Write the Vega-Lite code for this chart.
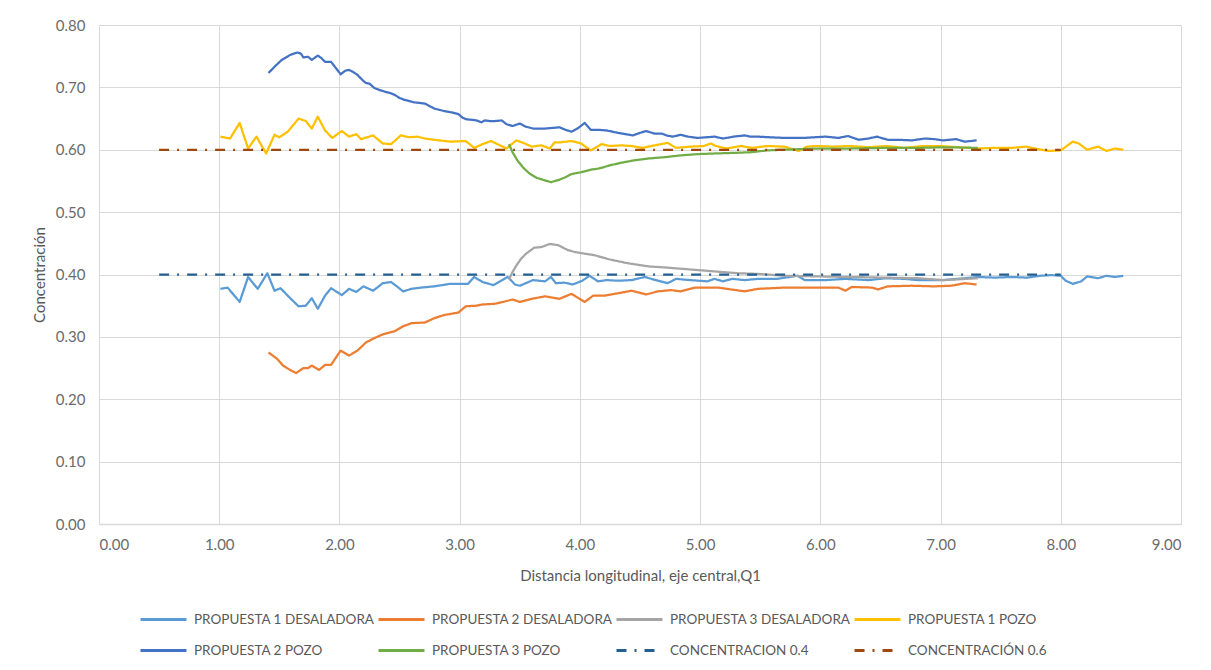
{
  "$schema": "https://vega.github.io/schema/vega-lite/v6.json",
  "width": 1082,
  "height": 499,
  "autosize": {"type": "none"},
  "padding": {"left": 99, "top": 25, "right": 30, "bottom": 146},
  "background": "white",
  "config": {
    "font": "Lato",
    "view": {"stroke": null},
    "axis": {
      "labelFont": "Lato", "labelFontSize": 15, "labelColor": "#6b6b6b",
      "titleFont": "Lato", "titleFontSize": 15, "titleFontWeight": "normal", "titleColor": "#595959",
      "gridColor": "#d9d9d9", "gridWidth": 1, "ticks": false
    },
    "legend": {
      "labelFont": "Lato", "labelFontSize": 13.5, "labelColor": "#595959", "labelLimit": 400
    }
  },
  "data": {
    "values": [
      {"serie": "PROPUESTA 1 DESALADORA", "x": 1.01, "y": 0.377}, {"serie": "PROPUESTA 1 DESALADORA", "x": 1.07, "y": 0.379}, {"serie": "PROPUESTA 1 DESALADORA", "x": 1.17, "y": 0.356}, {"serie": "PROPUESTA 1 DESALADORA", "x": 1.24, "y": 0.396}, {"serie": "PROPUESTA 1 DESALADORA", "x": 1.32, "y": 0.377}, {"serie": "PROPUESTA 1 DESALADORA", "x": 1.40, "y": 0.402}, {"serie": "PROPUESTA 1 DESALADORA", "x": 1.46, "y": 0.374}, {"serie": "PROPUESTA 1 DESALADORA", "x": 1.51, "y": 0.378}, {"serie": "PROPUESTA 1 DESALADORA", "x": 1.57, "y": 0.366}, {"serie": "PROPUESTA 1 DESALADORA", "x": 1.66, "y": 0.349}, {"serie": "PROPUESTA 1 DESALADORA", "x": 1.72, "y": 0.350}, {"serie": "PROPUESTA 1 DESALADORA", "x": 1.77, "y": 0.362}, {"serie": "PROPUESTA 1 DESALADORA", "x": 1.82, "y": 0.345}, {"serie": "PROPUESTA 1 DESALADORA", "x": 1.88, "y": 0.366}, {"serie": "PROPUESTA 1 DESALADORA", "x": 1.93, "y": 0.378}, {"serie": "PROPUESTA 1 DESALADORA", "x": 2.02, "y": 0.367}, {"serie": "PROPUESTA 1 DESALADORA", "x": 2.08, "y": 0.377}, {"serie": "PROPUESTA 1 DESALADORA", "x": 2.14, "y": 0.372}, {"serie": "PROPUESTA 1 DESALADORA", "x": 2.20, "y": 0.381}, {"serie": "PROPUESTA 1 DESALADORA", "x": 2.28, "y": 0.374}, {"serie": "PROPUESTA 1 DESALADORA", "x": 2.36, "y": 0.386}, {"serie": "PROPUESTA 1 DESALADORA", "x": 2.43, "y": 0.388}, {"serie": "PROPUESTA 1 DESALADORA", "x": 2.53, "y": 0.373}, {"serie": "PROPUESTA 1 DESALADORA", "x": 2.60, "y": 0.377}, {"serie": "PROPUESTA 1 DESALADORA", "x": 2.68, "y": 0.379}, {"serie": "PROPUESTA 1 DESALADORA", "x": 2.79, "y": 0.381}, {"serie": "PROPUESTA 1 DESALADORA", "x": 2.92, "y": 0.385}, {"serie": "PROPUESTA 1 DESALADORA", "x": 3.07, "y": 0.385}, {"serie": "PROPUESTA 1 DESALADORA", "x": 3.12, "y": 0.396}, {"serie": "PROPUESTA 1 DESALADORA", "x": 3.19, "y": 0.388}, {"serie": "PROPUESTA 1 DESALADORA", "x": 3.28, "y": 0.383}, {"serie": "PROPUESTA 1 DESALADORA", "x": 3.40, "y": 0.396}, {"serie": "PROPUESTA 1 DESALADORA", "x": 3.46, "y": 0.384}, {"serie": "PROPUESTA 1 DESALADORA", "x": 3.50, "y": 0.382}, {"serie": "PROPUESTA 1 DESALADORA", "x": 3.61, "y": 0.391}, {"serie": "PROPUESTA 1 DESALADORA", "x": 3.71, "y": 0.389}, {"serie": "PROPUESTA 1 DESALADORA", "x": 3.76, "y": 0.396}, {"serie": "PROPUESTA 1 DESALADORA", "x": 3.80, "y": 0.386}, {"serie": "PROPUESTA 1 DESALADORA", "x": 3.87, "y": 0.387}, {"serie": "PROPUESTA 1 DESALADORA", "x": 3.94, "y": 0.384}, {"serie": "PROPUESTA 1 DESALADORA", "x": 4.02, "y": 0.390}, {"serie": "PROPUESTA 1 DESALADORA", "x": 4.08, "y": 0.398}, {"serie": "PROPUESTA 1 DESALADORA", "x": 4.15, "y": 0.389}, {"serie": "PROPUESTA 1 DESALADORA", "x": 4.22, "y": 0.391}, {"serie": "PROPUESTA 1 DESALADORA", "x": 4.32, "y": 0.390}, {"serie": "PROPUESTA 1 DESALADORA", "x": 4.43, "y": 0.391}, {"serie": "PROPUESTA 1 DESALADORA", "x": 4.54, "y": 0.396}, {"serie": "PROPUESTA 1 DESALADORA", "x": 4.65, "y": 0.390}, {"serie": "PROPUESTA 1 DESALADORA", "x": 4.73, "y": 0.386}, {"serie": "PROPUESTA 1 DESALADORA", "x": 4.80, "y": 0.393}, {"serie": "PROPUESTA 1 DESALADORA", "x": 4.92, "y": 0.391}, {"serie": "PROPUESTA 1 DESALADORA", "x": 5.06, "y": 0.389}, {"serie": "PROPUESTA 1 DESALADORA", "x": 5.12, "y": 0.393}, {"serie": "PROPUESTA 1 DESALADORA", "x": 5.19, "y": 0.389}, {"serie": "PROPUESTA 1 DESALADORA", "x": 5.27, "y": 0.393}, {"serie": "PROPUESTA 1 DESALADORA", "x": 5.37, "y": 0.391}, {"serie": "PROPUESTA 1 DESALADORA", "x": 5.48, "y": 0.393}, {"serie": "PROPUESTA 1 DESALADORA", "x": 5.64, "y": 0.393}, {"serie": "PROPUESTA 1 DESALADORA", "x": 5.81, "y": 0.398}, {"serie": "PROPUESTA 1 DESALADORA", "x": 5.87, "y": 0.391}, {"serie": "PROPUESTA 1 DESALADORA", "x": 6.04, "y": 0.391}, {"serie": "PROPUESTA 1 DESALADORA", "x": 6.21, "y": 0.393}, {"serie": "PROPUESTA 1 DESALADORA", "x": 6.40, "y": 0.391}, {"serie": "PROPUESTA 1 DESALADORA", "x": 6.54, "y": 0.394}, {"serie": "PROPUESTA 1 DESALADORA", "x": 6.70, "y": 0.393}, {"serie": "PROPUESTA 1 DESALADORA", "x": 6.81, "y": 0.391}, {"serie": "PROPUESTA 1 DESALADORA", "x": 7.02, "y": 0.391}, {"serie": "PROPUESTA 1 DESALADORA", "x": 7.20, "y": 0.394}, {"serie": "PROPUESTA 1 DESALADORA", "x": 7.31, "y": 0.396}, {"serie": "PROPUESTA 1 DESALADORA", "x": 7.45, "y": 0.395}, {"serie": "PROPUESTA 1 DESALADORA", "x": 7.59, "y": 0.396}, {"serie": "PROPUESTA 1 DESALADORA", "x": 7.72, "y": 0.395}, {"serie": "PROPUESTA 1 DESALADORA", "x": 7.83, "y": 0.398}, {"serie": "PROPUESTA 1 DESALADORA", "x": 7.92, "y": 0.399}, {"serie": "PROPUESTA 1 DESALADORA", "x": 8.00, "y": 0.398}, {"serie": "PROPUESTA 1 DESALADORA", "x": 8.04, "y": 0.390}, {"serie": "PROPUESTA 1 DESALADORA", "x": 8.10, "y": 0.385}, {"serie": "PROPUESTA 1 DESALADORA", "x": 8.17, "y": 0.389}, {"serie": "PROPUESTA 1 DESALADORA", "x": 8.22, "y": 0.397}, {"serie": "PROPUESTA 1 DESALADORA", "x": 8.31, "y": 0.394}, {"serie": "PROPUESTA 1 DESALADORA", "x": 8.38, "y": 0.398}, {"serie": "PROPUESTA 1 DESALADORA", "x": 8.45, "y": 0.396}, {"serie": "PROPUESTA 1 DESALADORA", "x": 8.52, "y": 0.398},

      {"serie": "PROPUESTA 2 DESALADORA", "x": 1.41, "y": 0.275}, {"serie": "PROPUESTA 2 DESALADORA", "x": 1.48, "y": 0.265}, {"serie": "PROPUESTA 2 DESALADORA", "x": 1.53, "y": 0.254}, {"serie": "PROPUESTA 2 DESALADORA", "x": 1.59, "y": 0.247}, {"serie": "PROPUESTA 2 DESALADORA", "x": 1.64, "y": 0.242}, {"serie": "PROPUESTA 2 DESALADORA", "x": 1.70, "y": 0.250}, {"serie": "PROPUESTA 2 DESALADORA", "x": 1.74, "y": 0.250}, {"serie": "PROPUESTA 2 DESALADORA", "x": 1.77, "y": 0.254}, {"serie": "PROPUESTA 2 DESALADORA", "x": 1.83, "y": 0.247}, {"serie": "PROPUESTA 2 DESALADORA", "x": 1.88, "y": 0.255}, {"serie": "PROPUESTA 2 DESALADORA", "x": 1.93, "y": 0.255}, {"serie": "PROPUESTA 2 DESALADORA", "x": 2.01, "y": 0.278}, {"serie": "PROPUESTA 2 DESALADORA", "x": 2.08, "y": 0.270}, {"serie": "PROPUESTA 2 DESALADORA", "x": 2.15, "y": 0.278}, {"serie": "PROPUESTA 2 DESALADORA", "x": 2.22, "y": 0.291}, {"serie": "PROPUESTA 2 DESALADORA", "x": 2.29, "y": 0.298}, {"serie": "PROPUESTA 2 DESALADORA", "x": 2.36, "y": 0.304}, {"serie": "PROPUESTA 2 DESALADORA", "x": 2.46, "y": 0.309}, {"serie": "PROPUESTA 2 DESALADORA", "x": 2.53, "y": 0.317}, {"serie": "PROPUESTA 2 DESALADORA", "x": 2.60, "y": 0.322}, {"serie": "PROPUESTA 2 DESALADORA", "x": 2.71, "y": 0.323}, {"serie": "PROPUESTA 2 DESALADORA", "x": 2.79, "y": 0.330}, {"serie": "PROPUESTA 2 DESALADORA", "x": 2.87, "y": 0.335}, {"serie": "PROPUESTA 2 DESALADORA", "x": 2.99, "y": 0.339}, {"serie": "PROPUESTA 2 DESALADORA", "x": 3.05, "y": 0.349}, {"serie": "PROPUESTA 2 DESALADORA", "x": 3.14, "y": 0.350}, {"serie": "PROPUESTA 2 DESALADORA", "x": 3.19, "y": 0.352}, {"serie": "PROPUESTA 2 DESALADORA", "x": 3.29, "y": 0.353}, {"serie": "PROPUESTA 2 DESALADORA", "x": 3.36, "y": 0.356}, {"serie": "PROPUESTA 2 DESALADORA", "x": 3.44, "y": 0.360}, {"serie": "PROPUESTA 2 DESALADORA", "x": 3.50, "y": 0.356}, {"serie": "PROPUESTA 2 DESALADORA", "x": 3.60, "y": 0.361}, {"serie": "PROPUESTA 2 DESALADORA", "x": 3.71, "y": 0.365}, {"serie": "PROPUESTA 2 DESALADORA", "x": 3.83, "y": 0.361}, {"serie": "PROPUESTA 2 DESALADORA", "x": 3.93, "y": 0.369}, {"serie": "PROPUESTA 2 DESALADORA", "x": 4.04, "y": 0.356}, {"serie": "PROPUESTA 2 DESALADORA", "x": 4.11, "y": 0.366}, {"serie": "PROPUESTA 2 DESALADORA", "x": 4.20, "y": 0.366}, {"serie": "PROPUESTA 2 DESALADORA", "x": 4.32, "y": 0.370}, {"serie": "PROPUESTA 2 DESALADORA", "x": 4.43, "y": 0.374}, {"serie": "PROPUESTA 2 DESALADORA", "x": 4.55, "y": 0.368}, {"serie": "PROPUESTA 2 DESALADORA", "x": 4.65, "y": 0.373}, {"serie": "PROPUESTA 2 DESALADORA", "x": 4.76, "y": 0.375}, {"serie": "PROPUESTA 2 DESALADORA", "x": 4.84, "y": 0.373}, {"serie": "PROPUESTA 2 DESALADORA", "x": 4.96, "y": 0.379}, {"serie": "PROPUESTA 2 DESALADORA", "x": 5.15, "y": 0.379}, {"serie": "PROPUESTA 2 DESALADORA", "x": 5.37, "y": 0.373}, {"serie": "PROPUESTA 2 DESALADORA", "x": 5.48, "y": 0.377}, {"serie": "PROPUESTA 2 DESALADORA", "x": 5.70, "y": 0.379}, {"serie": "PROPUESTA 2 DESALADORA", "x": 5.93, "y": 0.379}, {"serie": "PROPUESTA 2 DESALADORA", "x": 6.15, "y": 0.379}, {"serie": "PROPUESTA 2 DESALADORA", "x": 6.21, "y": 0.374}, {"serie": "PROPUESTA 2 DESALADORA", "x": 6.26, "y": 0.380}, {"serie": "PROPUESTA 2 DESALADORA", "x": 6.43, "y": 0.379}, {"serie": "PROPUESTA 2 DESALADORA", "x": 6.48, "y": 0.376}, {"serie": "PROPUESTA 2 DESALADORA", "x": 6.56, "y": 0.381}, {"serie": "PROPUESTA 2 DESALADORA", "x": 6.76, "y": 0.382}, {"serie": "PROPUESTA 2 DESALADORA", "x": 6.95, "y": 0.381}, {"serie": "PROPUESTA 2 DESALADORA", "x": 7.09, "y": 0.382}, {"serie": "PROPUESTA 2 DESALADORA", "x": 7.20, "y": 0.386}, {"serie": "PROPUESTA 2 DESALADORA", "x": 7.30, "y": 0.384},

      {"serie": "PROPUESTA 3 DESALADORA", "x": 3.41, "y": 0.392}, {"serie": "PROPUESTA 3 DESALADORA", "x": 3.44, "y": 0.404}, {"serie": "PROPUESTA 3 DESALADORA", "x": 3.47, "y": 0.414}, {"serie": "PROPUESTA 3 DESALADORA", "x": 3.51, "y": 0.425}, {"serie": "PROPUESTA 3 DESALADORA", "x": 3.55, "y": 0.433}, {"serie": "PROPUESTA 3 DESALADORA", "x": 3.62, "y": 0.443}, {"serie": "PROPUESTA 3 DESALADORA", "x": 3.68, "y": 0.444}, {"serie": "PROPUESTA 3 DESALADORA", "x": 3.75, "y": 0.449}, {"serie": "PROPUESTA 3 DESALADORA", "x": 3.82, "y": 0.447}, {"serie": "PROPUESTA 3 DESALADORA", "x": 3.90, "y": 0.439}, {"serie": "PROPUESTA 3 DESALADORA", "x": 3.96, "y": 0.436}, {"serie": "PROPUESTA 3 DESALADORA", "x": 4.02, "y": 0.434}, {"serie": "PROPUESTA 3 DESALADORA", "x": 4.12, "y": 0.431}, {"serie": "PROPUESTA 3 DESALADORA", "x": 4.25, "y": 0.424}, {"serie": "PROPUESTA 3 DESALADORA", "x": 4.40, "y": 0.418}, {"serie": "PROPUESTA 3 DESALADORA", "x": 4.57, "y": 0.413}, {"serie": "PROPUESTA 3 DESALADORA", "x": 4.73, "y": 0.411}, {"serie": "PROPUESTA 3 DESALADORA", "x": 4.92, "y": 0.408}, {"serie": "PROPUESTA 3 DESALADORA", "x": 5.12, "y": 0.405}, {"serie": "PROPUESTA 3 DESALADORA", "x": 5.31, "y": 0.402}, {"serie": "PROPUESTA 3 DESALADORA", "x": 5.48, "y": 0.401}, {"serie": "PROPUESTA 3 DESALADORA", "x": 5.70, "y": 0.398}, {"serie": "PROPUESTA 3 DESALADORA", "x": 5.97, "y": 0.397}, {"serie": "PROPUESTA 3 DESALADORA", "x": 6.25, "y": 0.396}, {"serie": "PROPUESTA 3 DESALADORA", "x": 6.53, "y": 0.395}, {"serie": "PROPUESTA 3 DESALADORA", "x": 6.81, "y": 0.394}, {"serie": "PROPUESTA 3 DESALADORA", "x": 7.03, "y": 0.391}, {"serie": "PROPUESTA 3 DESALADORA", "x": 7.31, "y": 0.394},

      {"serie": "PROPUESTA 1 POZO", "x": 1.01, "y": 0.621}, {"serie": "PROPUESTA 1 POZO", "x": 1.09, "y": 0.618}, {"serie": "PROPUESTA 1 POZO", "x": 1.17, "y": 0.643}, {"serie": "PROPUESTA 1 POZO", "x": 1.24, "y": 0.602}, {"serie": "PROPUESTA 1 POZO", "x": 1.31, "y": 0.621}, {"serie": "PROPUESTA 1 POZO", "x": 1.39, "y": 0.594}, {"serie": "PROPUESTA 1 POZO", "x": 1.46, "y": 0.624}, {"serie": "PROPUESTA 1 POZO", "x": 1.50, "y": 0.620}, {"serie": "PROPUESTA 1 POZO", "x": 1.57, "y": 0.629}, {"serie": "PROPUESTA 1 POZO", "x": 1.66, "y": 0.650}, {"serie": "PROPUESTA 1 POZO", "x": 1.72, "y": 0.646}, {"serie": "PROPUESTA 1 POZO", "x": 1.77, "y": 0.634}, {"serie": "PROPUESTA 1 POZO", "x": 1.82, "y": 0.653}, {"serie": "PROPUESTA 1 POZO", "x": 1.88, "y": 0.631}, {"serie": "PROPUESTA 1 POZO", "x": 1.94, "y": 0.619}, {"serie": "PROPUESTA 1 POZO", "x": 2.02, "y": 0.630}, {"serie": "PROPUESTA 1 POZO", "x": 2.08, "y": 0.621}, {"serie": "PROPUESTA 1 POZO", "x": 2.14, "y": 0.625}, {"serie": "PROPUESTA 1 POZO", "x": 2.18, "y": 0.617}, {"serie": "PROPUESTA 1 POZO", "x": 2.28, "y": 0.623}, {"serie": "PROPUESTA 1 POZO", "x": 2.36, "y": 0.610}, {"serie": "PROPUESTA 1 POZO", "x": 2.43, "y": 0.609}, {"serie": "PROPUESTA 1 POZO", "x": 2.51, "y": 0.623}, {"serie": "PROPUESTA 1 POZO", "x": 2.58, "y": 0.620}, {"serie": "PROPUESTA 1 POZO", "x": 2.65, "y": 0.621}, {"serie": "PROPUESTA 1 POZO", "x": 2.71, "y": 0.618}, {"serie": "PROPUESTA 1 POZO", "x": 2.79, "y": 0.616}, {"serie": "PROPUESTA 1 POZO", "x": 2.92, "y": 0.613}, {"serie": "PROPUESTA 1 POZO", "x": 3.05, "y": 0.614}, {"serie": "PROPUESTA 1 POZO", "x": 3.12, "y": 0.603}, {"serie": "PROPUESTA 1 POZO", "x": 3.19, "y": 0.609}, {"serie": "PROPUESTA 1 POZO", "x": 3.26, "y": 0.614}, {"serie": "PROPUESTA 1 POZO", "x": 3.39, "y": 0.602}, {"serie": "PROPUESTA 1 POZO", "x": 3.47, "y": 0.615}, {"serie": "PROPUESTA 1 POZO", "x": 3.53, "y": 0.611}, {"serie": "PROPUESTA 1 POZO", "x": 3.60, "y": 0.605}, {"serie": "PROPUESTA 1 POZO", "x": 3.68, "y": 0.607}, {"serie": "PROPUESTA 1 POZO", "x": 3.75, "y": 0.602}, {"serie": "PROPUESTA 1 POZO", "x": 3.79, "y": 0.612}, {"serie": "PROPUESTA 1 POZO", "x": 3.84, "y": 0.612}, {"serie": "PROPUESTA 1 POZO", "x": 3.93, "y": 0.614}, {"serie": "PROPUESTA 1 POZO", "x": 4.01, "y": 0.610}, {"serie": "PROPUESTA 1 POZO", "x": 4.09, "y": 0.599}, {"serie": "PROPUESTA 1 POZO", "x": 4.18, "y": 0.609}, {"serie": "PROPUESTA 1 POZO", "x": 4.25, "y": 0.606}, {"serie": "PROPUESTA 1 POZO", "x": 4.34, "y": 0.607}, {"serie": "PROPUESTA 1 POZO", "x": 4.43, "y": 0.606}, {"serie": "PROPUESTA 1 POZO", "x": 4.52, "y": 0.603}, {"serie": "PROPUESTA 1 POZO", "x": 4.62, "y": 0.607}, {"serie": "PROPUESTA 1 POZO", "x": 4.73, "y": 0.611}, {"serie": "PROPUESTA 1 POZO", "x": 4.80, "y": 0.603}, {"serie": "PROPUESTA 1 POZO", "x": 4.92, "y": 0.605}, {"serie": "PROPUESTA 1 POZO", "x": 5.03, "y": 0.606}, {"serie": "PROPUESTA 1 POZO", "x": 5.09, "y": 0.610}, {"serie": "PROPUESTA 1 POZO", "x": 5.13, "y": 0.606}, {"serie": "PROPUESTA 1 POZO", "x": 5.22, "y": 0.602}, {"serie": "PROPUESTA 1 POZO", "x": 5.34, "y": 0.606}, {"serie": "PROPUESTA 1 POZO", "x": 5.43, "y": 0.603}, {"serie": "PROPUESTA 1 POZO", "x": 5.56, "y": 0.606}, {"serie": "PROPUESTA 1 POZO", "x": 5.70, "y": 0.605}, {"serie": "PROPUESTA 1 POZO", "x": 5.82, "y": 0.598}, {"serie": "PROPUESTA 1 POZO", "x": 5.89, "y": 0.605}, {"serie": "PROPUESTA 1 POZO", "x": 5.97, "y": 0.606}, {"serie": "PROPUESTA 1 POZO", "x": 6.10, "y": 0.605}, {"serie": "PROPUESTA 1 POZO", "x": 6.25, "y": 0.606}, {"serie": "PROPUESTA 1 POZO", "x": 6.40, "y": 0.604}, {"serie": "PROPUESTA 1 POZO", "x": 6.55, "y": 0.606}, {"serie": "PROPUESTA 1 POZO", "x": 6.70, "y": 0.603}, {"serie": "PROPUESTA 1 POZO", "x": 6.85, "y": 0.606}, {"serie": "PROPUESTA 1 POZO", "x": 7.00, "y": 0.606}, {"serie": "PROPUESTA 1 POZO", "x": 7.15, "y": 0.604}, {"serie": "PROPUESTA 1 POZO", "x": 7.31, "y": 0.602}, {"serie": "PROPUESTA 1 POZO", "x": 7.45, "y": 0.603}, {"serie": "PROPUESTA 1 POZO", "x": 7.59, "y": 0.603}, {"serie": "PROPUESTA 1 POZO", "x": 7.71, "y": 0.605}, {"serie": "PROPUESTA 1 POZO", "x": 7.81, "y": 0.601}, {"serie": "PROPUESTA 1 POZO", "x": 7.90, "y": 0.598}, {"serie": "PROPUESTA 1 POZO", "x": 8.00, "y": 0.599}, {"serie": "PROPUESTA 1 POZO", "x": 8.10, "y": 0.613}, {"serie": "PROPUESTA 1 POZO", "x": 8.15, "y": 0.610}, {"serie": "PROPUESTA 1 POZO", "x": 8.22, "y": 0.600}, {"serie": "PROPUESTA 1 POZO", "x": 8.31, "y": 0.605}, {"serie": "PROPUESTA 1 POZO", "x": 8.38, "y": 0.598}, {"serie": "PROPUESTA 1 POZO", "x": 8.45, "y": 0.602}, {"serie": "PROPUESTA 1 POZO", "x": 8.52, "y": 0.600},

      {"serie": "PROPUESTA 2 POZO", "x": 1.41, "y": 0.723}, {"serie": "PROPUESTA 2 POZO", "x": 1.47, "y": 0.735}, {"serie": "PROPUESTA 2 POZO", "x": 1.52, "y": 0.744}, {"serie": "PROPUESTA 2 POZO", "x": 1.59, "y": 0.752}, {"serie": "PROPUESTA 2 POZO", "x": 1.65, "y": 0.756}, {"serie": "PROPUESTA 2 POZO", "x": 1.68, "y": 0.754}, {"serie": "PROPUESTA 2 POZO", "x": 1.70, "y": 0.748}, {"serie": "PROPUESTA 2 POZO", "x": 1.74, "y": 0.749}, {"serie": "PROPUESTA 2 POZO", "x": 1.77, "y": 0.744}, {"serie": "PROPUESTA 2 POZO", "x": 1.82, "y": 0.751}, {"serie": "PROPUESTA 2 POZO", "x": 1.85, "y": 0.747}, {"serie": "PROPUESTA 2 POZO", "x": 1.88, "y": 0.741}, {"serie": "PROPUESTA 2 POZO", "x": 1.93, "y": 0.741}, {"serie": "PROPUESTA 2 POZO", "x": 1.97, "y": 0.731}, {"serie": "PROPUESTA 2 POZO", "x": 2.01, "y": 0.721}, {"serie": "PROPUESTA 2 POZO", "x": 2.05, "y": 0.727}, {"serie": "PROPUESTA 2 POZO", "x": 2.08, "y": 0.728}, {"serie": "PROPUESTA 2 POZO", "x": 2.12, "y": 0.724}, {"serie": "PROPUESTA 2 POZO", "x": 2.15, "y": 0.720}, {"serie": "PROPUESTA 2 POZO", "x": 2.19, "y": 0.712}, {"serie": "PROPUESTA 2 POZO", "x": 2.22, "y": 0.707}, {"serie": "PROPUESTA 2 POZO", "x": 2.25, "y": 0.706}, {"serie": "PROPUESTA 2 POZO", "x": 2.29, "y": 0.699}, {"serie": "PROPUESTA 2 POZO", "x": 2.33, "y": 0.696}, {"serie": "PROPUESTA 2 POZO", "x": 2.38, "y": 0.693}, {"serie": "PROPUESTA 2 POZO", "x": 2.42, "y": 0.691}, {"serie": "PROPUESTA 2 POZO", "x": 2.46, "y": 0.688}, {"serie": "PROPUESTA 2 POZO", "x": 2.50, "y": 0.683}, {"serie": "PROPUESTA 2 POZO", "x": 2.54, "y": 0.680}, {"serie": "PROPUESTA 2 POZO", "x": 2.58, "y": 0.678}, {"serie": "PROPUESTA 2 POZO", "x": 2.62, "y": 0.676}, {"serie": "PROPUESTA 2 POZO", "x": 2.67, "y": 0.675}, {"serie": "PROPUESTA 2 POZO", "x": 2.71, "y": 0.674}, {"serie": "PROPUESTA 2 POZO", "x": 2.75, "y": 0.670}, {"serie": "PROPUESTA 2 POZO", "x": 2.79, "y": 0.666}, {"serie": "PROPUESTA 2 POZO", "x": 2.83, "y": 0.664}, {"serie": "PROPUESTA 2 POZO", "x": 2.87, "y": 0.662}, {"serie": "PROPUESTA 2 POZO", "x": 2.93, "y": 0.660}, {"serie": "PROPUESTA 2 POZO", "x": 2.99, "y": 0.657}, {"serie": "PROPUESTA 2 POZO", "x": 3.02, "y": 0.652}, {"serie": "PROPUESTA 2 POZO", "x": 3.05, "y": 0.649}, {"serie": "PROPUESTA 2 POZO", "x": 3.10, "y": 0.648}, {"serie": "PROPUESTA 2 POZO", "x": 3.14, "y": 0.647}, {"serie": "PROPUESTA 2 POZO", "x": 3.18, "y": 0.644}, {"serie": "PROPUESTA 2 POZO", "x": 3.21, "y": 0.647}, {"serie": "PROPUESTA 2 POZO", "x": 3.25, "y": 0.646}, {"serie": "PROPUESTA 2 POZO", "x": 3.29, "y": 0.646}, {"serie": "PROPUESTA 2 POZO", "x": 3.35, "y": 0.647}, {"serie": "PROPUESTA 2 POZO", "x": 3.39, "y": 0.641}, {"serie": "PROPUESTA 2 POZO", "x": 3.44, "y": 0.638}, {"serie": "PROPUESTA 2 POZO", "x": 3.47, "y": 0.640}, {"serie": "PROPUESTA 2 POZO", "x": 3.50, "y": 0.642}, {"serie": "PROPUESTA 2 POZO", "x": 3.55, "y": 0.637}, {"serie": "PROPUESTA 2 POZO", "x": 3.61, "y": 0.634}, {"serie": "PROPUESTA 2 POZO", "x": 3.66, "y": 0.634}, {"serie": "PROPUESTA 2 POZO", "x": 3.71, "y": 0.634}, {"serie": "PROPUESTA 2 POZO", "x": 3.77, "y": 0.635}, {"serie": "PROPUESTA 2 POZO", "x": 3.83, "y": 0.636}, {"serie": "PROPUESTA 2 POZO", "x": 3.88, "y": 0.632}, {"serie": "PROPUESTA 2 POZO", "x": 3.93, "y": 0.629}, {"serie": "PROPUESTA 2 POZO", "x": 3.98, "y": 0.634}, {"serie": "PROPUESTA 2 POZO", "x": 4.04, "y": 0.643}, {"serie": "PROPUESTA 2 POZO", "x": 4.09, "y": 0.632}, {"serie": "PROPUESTA 2 POZO", "x": 4.15, "y": 0.632}, {"serie": "PROPUESTA 2 POZO", "x": 4.22, "y": 0.631}, {"serie": "PROPUESTA 2 POZO", "x": 4.27, "y": 0.629}, {"serie": "PROPUESTA 2 POZO", "x": 4.32, "y": 0.627}, {"serie": "PROPUESTA 2 POZO", "x": 4.38, "y": 0.625}, {"serie": "PROPUESTA 2 POZO", "x": 4.44, "y": 0.623}, {"serie": "PROPUESTA 2 POZO", "x": 4.50, "y": 0.627}, {"serie": "PROPUESTA 2 POZO", "x": 4.55, "y": 0.630}, {"serie": "PROPUESTA 2 POZO", "x": 4.62, "y": 0.626}, {"serie": "PROPUESTA 2 POZO", "x": 4.68, "y": 0.626}, {"serie": "PROPUESTA 2 POZO", "x": 4.72, "y": 0.623}, {"serie": "PROPUESTA 2 POZO", "x": 4.77, "y": 0.621}, {"serie": "PROPUESTA 2 POZO", "x": 4.84, "y": 0.624}, {"serie": "PROPUESTA 2 POZO", "x": 4.90, "y": 0.621}, {"serie": "PROPUESTA 2 POZO", "x": 4.98, "y": 0.619}, {"serie": "PROPUESTA 2 POZO", "x": 5.05, "y": 0.620}, {"serie": "PROPUESTA 2 POZO", "x": 5.12, "y": 0.621}, {"serie": "PROPUESTA 2 POZO", "x": 5.19, "y": 0.618}, {"serie": "PROPUESTA 2 POZO", "x": 5.28, "y": 0.621}, {"serie": "PROPUESTA 2 POZO", "x": 5.37, "y": 0.623}, {"serie": "PROPUESTA 2 POZO", "x": 5.42, "y": 0.621}, {"serie": "PROPUESTA 2 POZO", "x": 5.48, "y": 0.621}, {"serie": "PROPUESTA 2 POZO", "x": 5.58, "y": 0.620}, {"serie": "PROPUESTA 2 POZO", "x": 5.70, "y": 0.619}, {"serie": "PROPUESTA 2 POZO", "x": 5.80, "y": 0.619}, {"serie": "PROPUESTA 2 POZO", "x": 5.87, "y": 0.619}, {"serie": "PROPUESTA 2 POZO", "x": 5.95, "y": 0.620}, {"serie": "PROPUESTA 2 POZO", "x": 6.04, "y": 0.621}, {"serie": "PROPUESTA 2 POZO", "x": 6.10, "y": 0.620}, {"serie": "PROPUESTA 2 POZO", "x": 6.15, "y": 0.619}, {"serie": "PROPUESTA 2 POZO", "x": 6.23, "y": 0.622}, {"serie": "PROPUESTA 2 POZO", "x": 6.32, "y": 0.616}, {"serie": "PROPUESTA 2 POZO", "x": 6.40, "y": 0.618}, {"serie": "PROPUESTA 2 POZO", "x": 6.47, "y": 0.621}, {"serie": "PROPUESTA 2 POZO", "x": 6.56, "y": 0.616}, {"serie": "PROPUESTA 2 POZO", "x": 6.65, "y": 0.616}, {"serie": "PROPUESTA 2 POZO", "x": 6.76, "y": 0.615}, {"serie": "PROPUESTA 2 POZO", "x": 6.87, "y": 0.618}, {"serie": "PROPUESTA 2 POZO", "x": 6.95, "y": 0.617}, {"serie": "PROPUESTA 2 POZO", "x": 7.02, "y": 0.615}, {"serie": "PROPUESTA 2 POZO", "x": 7.13, "y": 0.617}, {"serie": "PROPUESTA 2 POZO", "x": 7.20, "y": 0.613}, {"serie": "PROPUESTA 2 POZO", "x": 7.25, "y": 0.614}, {"serie": "PROPUESTA 2 POZO", "x": 7.30, "y": 0.615},

      {"serie": "PROPUESTA 3 POZO", "x": 3.41, "y": 0.609}, {"serie": "PROPUESTA 3 POZO", "x": 3.44, "y": 0.596}, {"serie": "PROPUESTA 3 POZO", "x": 3.48, "y": 0.583}, {"serie": "PROPUESTA 3 POZO", "x": 3.53, "y": 0.571}, {"serie": "PROPUESTA 3 POZO", "x": 3.58, "y": 0.562}, {"serie": "PROPUESTA 3 POZO", "x": 3.64, "y": 0.555}, {"serie": "PROPUESTA 3 POZO", "x": 3.69, "y": 0.552}, {"serie": "PROPUESTA 3 POZO", "x": 3.76, "y": 0.548}, {"serie": "PROPUESTA 3 POZO", "x": 3.83, "y": 0.552}, {"serie": "PROPUESTA 3 POZO", "x": 3.88, "y": 0.556}, {"serie": "PROPUESTA 3 POZO", "x": 3.93, "y": 0.561}, {"serie": "PROPUESTA 3 POZO", "x": 4.01, "y": 0.564}, {"serie": "PROPUESTA 3 POZO", "x": 4.09, "y": 0.568}, {"serie": "PROPUESTA 3 POZO", "x": 4.16, "y": 0.570}, {"serie": "PROPUESTA 3 POZO", "x": 4.25, "y": 0.575}, {"serie": "PROPUESTA 3 POZO", "x": 4.34, "y": 0.579}, {"serie": "PROPUESTA 3 POZO", "x": 4.45, "y": 0.583}, {"serie": "PROPUESTA 3 POZO", "x": 4.57, "y": 0.586}, {"serie": "PROPUESTA 3 POZO", "x": 4.70, "y": 0.588}, {"serie": "PROPUESTA 3 POZO", "x": 4.84, "y": 0.591}, {"serie": "PROPUESTA 3 POZO", "x": 4.98, "y": 0.593}, {"serie": "PROPUESTA 3 POZO", "x": 5.12, "y": 0.594}, {"serie": "PROPUESTA 3 POZO", "x": 5.28, "y": 0.595}, {"serie": "PROPUESTA 3 POZO", "x": 5.42, "y": 0.596}, {"serie": "PROPUESTA 3 POZO", "x": 5.56, "y": 0.599}, {"serie": "PROPUESTA 3 POZO", "x": 5.70, "y": 0.600}, {"serie": "PROPUESTA 3 POZO", "x": 5.97, "y": 0.602}, {"serie": "PROPUESTA 3 POZO", "x": 6.25, "y": 0.602}, {"serie": "PROPUESTA 3 POZO", "x": 6.53, "y": 0.603}, {"serie": "PROPUESTA 3 POZO", "x": 6.81, "y": 0.603}, {"serie": "PROPUESTA 3 POZO", "x": 7.05, "y": 0.604}, {"serie": "PROPUESTA 3 POZO", "x": 7.31, "y": 0.603},

      {"serie": "CONCENTRACION 0.4", "x": 0.5, "y": 0.4}, {"serie": "CONCENTRACION 0.4", "x": 8.0, "y": 0.4},
      {"serie": "CONCENTRACIÓN 0.6", "x": 0.5, "y": 0.6}, {"serie": "CONCENTRACIÓN 0.6", "x": 8.0, "y": 0.6}
    ]
  },
  "mark": {"type": "line", "strokeWidth": 2.25, "strokeJoin": "round", "strokeCap": "butt"},
  "encoding": {
    "x": {
      "field": "x", "type": "quantitative",
      "scale": {"domain": [0, 9], "nice": false},
      "axis": {
        "title": "Distancia longitudinal, eje central,Q1",
        "values": [0, 1, 2, 3, 4, 5, 6, 7, 8, 9], "format": ".2f",
        "domainColor": "#d9d9d9", "domainWidth": 1.5,
        "labelPadding": 13, "titlePadding": 16
      }
    },
    "y": {
      "field": "y", "type": "quantitative",
      "scale": {"domain": [0, 0.8], "nice": false},
      "axis": {
        "title": "Concentración",
        "values": [0, 0.1, 0.2, 0.3, 0.4, 0.5, 0.6, 0.7, 0.8], "format": ".2f",
        "domain": false, "labelPadding": 14, "titlePadding": 8
      }
    },
    "color": {
      "field": "serie", "type": "nominal",
      "scale": {
        "domain": ["PROPUESTA 1 DESALADORA", "PROPUESTA 2 DESALADORA", "PROPUESTA 3 DESALADORA", "PROPUESTA 1 POZO", "PROPUESTA 2 POZO", "PROPUESTA 3 POZO", "CONCENTRACION 0.4", "CONCENTRACIÓN 0.6"],
        "range": ["#5B9BD5", "#ED7D31", "#A5A5A5", "#FFC000", "#4472C4", "#70AD47", "#255E91", "#9E480E"]
      },
      "legend": {
        "title": null, "orient": "none", "legendX": 40, "legendY": 570,
        "direction": "horizontal", "columns": 4, "columnPadding": -3, "rowPadding": -18,
        "symbolType": "stroke", "symbolSize": 2116, "symbolStrokeWidth": 3, "labelOffset": 6
      }
    },
    "strokeDash": {
      "field": "serie", "type": "nominal",
      "scale": {
        "domain": ["PROPUESTA 1 DESALADORA", "PROPUESTA 2 DESALADORA", "PROPUESTA 3 DESALADORA", "PROPUESTA 1 POZO", "PROPUESTA 2 POZO", "PROPUESTA 3 POZO", "CONCENTRACION 0.4", "CONCENTRACIÓN 0.6"],
        "range": [[1, 0], [1, 0], [1, 0], [1, 0], [1, 0], [1, 0], [10, 8, 2, 8], [10, 8, 2, 8]]
      },
      "legend": {
        "title": null, "orient": "none", "legendX": 40, "legendY": 570,
        "direction": "horizontal", "columns": 4, "columnPadding": -3, "rowPadding": -18,
        "symbolType": "stroke", "symbolSize": 2116, "symbolStrokeWidth": 3, "labelOffset": 6
      }
    }
  }
}
